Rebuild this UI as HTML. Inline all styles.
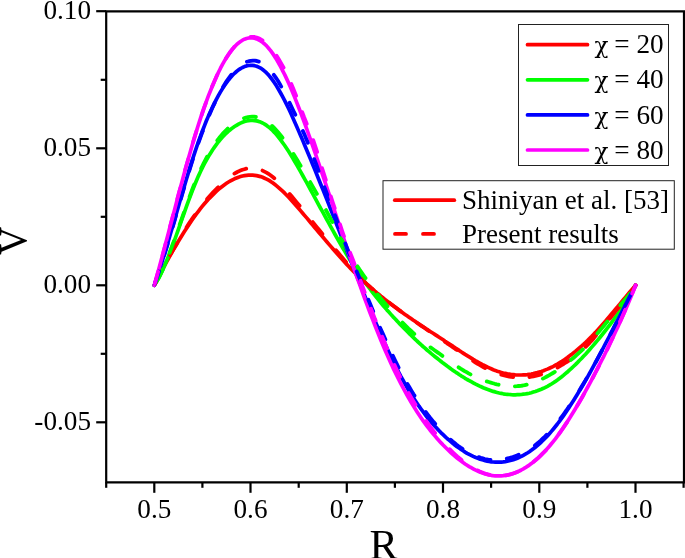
<!DOCTYPE html><html><head><meta charset="utf-8"><title>V vs R</title>
<style>html,body{margin:0;padding:0;background:#fff}body{width:685px;height:558px;overflow:hidden}svg{display:block}text{font-family:"Liberation Serif","DejaVu Serif",serif;fill:#000}</style></head><body>
<svg width="685" height="558" viewBox="0 0 685 558">
<rect width="685" height="558" fill="#fff"/>
<g fill="none" stroke-linecap="round" stroke-linejoin="round">
<path d="M154.3,285.3 L156.3,281.4 L158.3,277.5 L160.3,273.7 L162.3,269.9 L164.3,266.1 L166.3,262.4 L168.3,258.8 L170.3,255.2 L172.3,251.6 L174.4,248.1 L176.4,244.7 L178.4,241.3 L180.4,238.0 L182.4,234.7 L184.4,231.5 L186.4,228.4 L188.4,225.4 L190.4,222.4 L192.4,219.5 L194.4,216.7 L196.4,213.9 L198.4,211.3 L200.4,208.7 L202.4,206.2 L204.4,203.8 L206.4,201.5 L208.4,199.3 L210.5,197.1 L212.5,195.1 L214.5,193.1 L216.5,191.2 L218.5,189.4 L220.5,187.8 L222.5,186.2 L224.5,184.7 L226.5,183.3 L228.5,182.0 L230.5,180.9 L232.5,179.8 L234.5,178.8 L236.5,178.0 L238.5,177.2 L240.5,176.6 L242.5,176.0 L244.5,175.6 L246.5,175.3 L248.6,175.1 L250.6,175.1 L252.6,175.1 L254.6,175.3 L256.6,175.6 L258.6,176.1 L260.6,176.6 L262.6,177.3 L264.6,178.2 L266.6,179.1 L268.6,180.2 L270.6,181.4 L272.6,182.8 L274.6,184.3 L276.6,185.9 L278.6,187.6 L280.6,189.4 L282.6,191.2 L284.7,193.2 L286.7,195.2 L288.7,197.3 L290.7,199.5 L292.7,201.7 L294.7,203.9 L296.7,206.2 L298.7,208.5 L300.7,210.9 L302.7,213.2 L304.7,215.6 L306.7,217.9 L308.7,220.3 L310.7,222.7 L312.7,225.1 L314.7,227.5 L316.7,229.9 L318.7,232.2 L320.7,234.6 L322.8,237.0 L324.8,239.4 L326.8,241.7 L328.8,244.1 L330.8,246.4 L332.8,248.7 L334.8,251.0 L336.8,253.3 L338.8,255.6 L340.8,257.8 L342.8,260.0 L344.8,262.2 L346.8,264.4 L348.8,266.5 L350.8,268.6 L352.8,270.6 L354.8,272.7 L356.8,274.6 L358.9,276.6 L360.9,278.5 L362.9,280.4 L364.9,282.3 L366.9,284.1 L368.9,285.9 L370.9,287.7 L372.9,289.4 L374.9,291.2 L376.9,292.9 L378.9,294.5 L380.9,296.2 L382.9,297.8 L384.9,299.4 L386.9,301.0 L388.9,302.6 L390.9,304.1 L392.9,305.6 L395.0,307.1 L397.0,308.6 L399.0,310.1 L401.0,311.6 L403.0,313.0 L405.0,314.4 L407.0,315.8 L409.0,317.2 L411.0,318.6 L413.0,320.0 L415.0,321.3 L417.0,322.7 L419.0,324.0 L421.0,325.4 L423.0,326.7 L425.0,328.0 L427.0,329.4 L429.0,330.7 L431.0,332.0 L433.1,333.3 L435.1,334.6 L437.1,335.9 L439.1,337.2 L441.1,338.5 L443.1,339.8 L445.1,341.2 L447.1,342.5 L449.1,343.8 L451.1,345.1 L453.1,346.4 L455.1,347.8 L457.1,349.1 L459.1,350.4 L461.1,351.8 L463.1,353.1 L465.1,354.4 L467.1,355.6 L469.2,356.9 L471.2,358.1 L473.2,359.4 L475.2,360.6 L477.2,361.7 L479.2,362.8 L481.2,363.9 L483.2,365.0 L485.2,366.0 L487.2,367.0 L489.2,367.9 L491.2,368.8 L493.2,369.7 L495.2,370.4 L497.2,371.2 L499.2,371.8 L501.2,372.4 L503.2,373.0 L505.2,373.4 L507.3,373.9 L509.3,374.2 L511.3,374.5 L513.3,374.7 L515.3,374.9 L517.3,375.0 L519.3,375.0 L521.3,375.0 L523.3,374.9 L525.3,374.8 L527.3,374.6 L529.3,374.3 L531.3,374.0 L533.3,373.6 L535.3,373.1 L537.3,372.6 L539.3,372.0 L541.3,371.4 L543.4,370.7 L545.4,369.9 L547.4,369.1 L549.4,368.2 L551.4,367.3 L553.4,366.3 L555.4,365.2 L557.4,364.1 L559.4,362.9 L561.4,361.7 L563.4,360.4 L565.4,359.0 L567.4,357.6 L569.4,356.1 L571.4,354.6 L573.4,353.0 L575.4,351.4 L577.4,349.7 L579.4,348.0 L581.5,346.2 L583.5,344.4 L585.5,342.5 L587.5,340.6 L589.5,338.6 L591.5,336.6 L593.5,334.5 L595.5,332.4 L597.5,330.2 L599.5,328.0 L601.5,325.7 L603.5,323.4 L605.5,321.1 L607.5,318.8 L609.5,316.4 L611.5,314.0 L613.5,311.6 L615.5,309.2 L617.6,306.8 L619.6,304.4 L621.6,302.0 L623.6,299.5 L625.6,297.1 L627.6,294.7 L629.6,292.3 L631.6,290.0 L633.6,287.6 L635.6,285.3" stroke="#ff0000" stroke-width="3.7"/>
<path d="M154.3,285.3 L156.3,282.2 L158.3,278.8 L160.3,274.9 L162.3,270.8 L164.3,266.3 L166.3,261.5 L168.3,256.6 L170.3,251.4 L172.3,246.1 L174.4,240.6 L176.4,235.0 L178.4,229.3 L180.4,223.7 L182.4,218.0 L184.4,212.3 L186.4,206.7 L188.4,201.2 L190.4,195.8 L192.4,190.6 L194.4,185.5 L196.4,180.7 L198.4,176.1 L200.4,171.8 L202.4,167.6 L204.4,163.7 L206.4,160.0 L208.4,156.5 L210.5,153.2 L212.5,150.0 L214.5,147.1 L216.5,144.3 L218.5,141.7 L220.5,139.3 L222.5,137.0 L224.5,134.9 L226.5,133.0 L228.5,131.2 L230.5,129.5 L232.5,127.9 L234.5,126.5 L236.5,125.3 L238.5,124.1 L240.5,123.1 L242.5,122.3 L244.5,121.6 L246.5,121.0 L248.6,120.7 L250.6,120.5 L252.6,120.4 L254.6,120.6 L256.6,120.9 L258.6,121.4 L260.6,122.1 L262.6,123.0 L264.6,124.1 L266.6,125.4 L268.6,126.9 L270.6,128.6 L272.6,130.5 L274.6,132.6 L276.6,134.9 L278.6,137.3 L280.6,139.9 L282.6,142.7 L284.7,145.5 L286.7,148.5 L288.7,151.6 L290.7,154.8 L292.7,158.1 L294.7,161.5 L296.7,164.9 L298.7,168.4 L300.7,171.9 L302.7,175.5 L304.7,179.1 L306.7,182.7 L308.7,186.3 L310.7,190.0 L312.7,193.7 L314.7,197.4 L316.7,201.1 L318.7,204.8 L320.7,208.5 L322.8,212.1 L324.8,215.8 L326.8,219.5 L328.8,223.2 L330.8,226.8 L332.8,230.4 L334.8,234.0 L336.8,237.5 L338.8,241.1 L340.8,244.5 L342.8,248.0 L344.8,251.4 L346.8,254.7 L348.8,258.0 L350.8,261.2 L352.8,264.3 L354.8,267.4 L356.8,270.5 L358.9,273.4 L360.9,276.4 L362.9,279.2 L364.9,282.0 L366.9,284.8 L368.9,287.5 L370.9,290.2 L372.9,292.8 L374.9,295.3 L376.9,297.9 L378.9,300.3 L380.9,302.8 L382.9,305.2 L384.9,307.5 L386.9,309.9 L388.9,312.1 L390.9,314.4 L392.9,316.6 L395.0,318.8 L397.0,320.9 L399.0,323.1 L401.0,325.2 L403.0,327.2 L405.0,329.3 L407.0,331.3 L409.0,333.3 L411.0,335.2 L413.0,337.2 L415.0,339.1 L417.0,341.0 L419.0,342.8 L421.0,344.7 L423.0,346.5 L425.0,348.2 L427.0,350.0 L429.0,351.7 L431.0,353.4 L433.1,355.1 L435.1,356.7 L437.1,358.3 L439.1,359.9 L441.1,361.5 L443.1,363.1 L445.1,364.6 L447.1,366.1 L449.1,367.5 L451.1,369.0 L453.1,370.4 L455.1,371.8 L457.1,373.1 L459.1,374.5 L461.1,375.8 L463.1,377.0 L465.1,378.3 L467.1,379.5 L469.2,380.6 L471.2,381.7 L473.2,382.8 L475.2,383.9 L477.2,384.9 L479.2,385.9 L481.2,386.8 L483.2,387.7 L485.2,388.5 L487.2,389.3 L489.2,390.0 L491.2,390.7 L493.2,391.4 L495.2,391.9 L497.2,392.5 L499.2,393.0 L501.2,393.4 L503.2,393.8 L505.2,394.1 L507.3,394.3 L509.3,394.5 L511.3,394.7 L513.3,394.8 L515.3,394.8 L517.3,394.7 L519.3,394.6 L521.3,394.5 L523.3,394.2 L525.3,394.0 L527.3,393.6 L529.3,393.2 L531.3,392.7 L533.3,392.1 L535.3,391.5 L537.3,390.8 L539.3,390.0 L541.3,389.2 L543.4,388.3 L545.4,387.3 L547.4,386.3 L549.4,385.2 L551.4,384.0 L553.4,382.7 L555.4,381.4 L557.4,380.0 L559.4,378.5 L561.4,377.0 L563.4,375.4 L565.4,373.7 L567.4,372.0 L569.4,370.2 L571.4,368.4 L573.4,366.5 L575.4,364.6 L577.4,362.6 L579.4,360.5 L581.5,358.5 L583.5,356.3 L585.5,354.2 L587.5,352.0 L589.5,349.7 L591.5,347.4 L593.5,345.1 L595.5,342.8 L597.5,340.4 L599.5,338.0 L601.5,335.5 L603.5,333.0 L605.5,330.5 L607.5,327.9 L609.5,325.3 L611.5,322.6 L613.5,319.9 L615.5,317.1 L617.6,314.2 L619.6,311.3 L621.6,308.3 L623.6,305.3 L625.6,302.1 L627.6,298.9 L629.6,295.7 L631.6,292.3 L633.6,288.8 L635.6,285.3" stroke="#00ff00" stroke-width="3.7"/>
<path d="M154.3,285.3 L156.3,279.5 L158.3,273.5 L160.3,267.3 L162.3,260.9 L164.3,254.4 L166.3,247.8 L168.3,241.1 L170.3,234.2 L172.3,227.4 L174.4,220.4 L176.4,213.5 L178.4,206.5 L180.4,199.6 L182.4,192.7 L184.4,185.9 L186.4,179.2 L188.4,172.6 L190.4,166.1 L192.4,159.8 L194.4,153.6 L196.4,147.6 L198.4,141.9 L200.4,136.3 L202.4,131.0 L204.4,125.8 L206.4,120.8 L208.4,116.1 L210.5,111.5 L212.5,107.2 L214.5,103.1 L216.5,99.1 L218.5,95.4 L220.5,91.9 L222.5,88.6 L224.5,85.5 L226.5,82.7 L228.5,80.0 L230.5,77.6 L232.5,75.3 L234.5,73.3 L236.5,71.5 L238.5,69.9 L240.5,68.6 L242.5,67.5 L244.5,66.6 L246.5,65.9 L248.6,65.5 L250.6,65.3 L252.6,65.4 L254.6,65.7 L256.6,66.2 L258.6,67.1 L260.6,68.1 L262.6,69.5 L264.6,71.1 L266.6,72.9 L268.6,75.1 L270.6,77.5 L272.6,80.1 L274.6,83.0 L276.6,86.1 L278.6,89.5 L280.6,93.0 L282.6,96.7 L284.7,100.6 L286.7,104.6 L288.7,108.7 L290.7,113.0 L292.7,117.4 L294.7,121.9 L296.7,126.4 L298.7,131.1 L300.7,135.7 L302.7,140.4 L304.7,145.2 L306.7,150.0 L308.7,154.8 L310.7,159.6 L312.7,164.5 L314.7,169.4 L316.7,174.3 L318.7,179.3 L320.7,184.3 L322.8,189.3 L324.8,194.3 L326.8,199.3 L328.8,204.4 L330.8,209.5 L332.8,214.6 L334.8,219.7 L336.8,224.8 L338.8,229.9 L340.8,235.0 L342.8,240.1 L344.8,245.2 L346.8,250.4 L348.8,255.5 L350.8,260.6 L352.8,265.7 L354.8,270.8 L356.8,275.9 L358.9,281.0 L360.9,286.1 L362.9,291.1 L364.9,296.1 L366.9,301.1 L368.9,306.0 L370.9,310.9 L372.9,315.8 L374.9,320.6 L376.9,325.3 L378.9,330.0 L380.9,334.6 L382.9,339.2 L384.9,343.6 L386.9,348.1 L388.9,352.4 L390.9,356.6 L392.9,360.8 L395.0,364.9 L397.0,368.9 L399.0,372.8 L401.0,376.6 L403.0,380.2 L405.0,383.8 L407.0,387.3 L409.0,390.7 L411.0,394.0 L413.0,397.1 L415.0,400.2 L417.0,403.2 L419.0,406.2 L421.0,409.0 L423.0,411.7 L425.0,414.4 L427.0,417.0 L429.0,419.4 L431.0,421.9 L433.1,424.2 L435.1,426.4 L437.1,428.6 L439.1,430.7 L441.1,432.8 L443.1,434.7 L445.1,436.6 L447.1,438.5 L449.1,440.2 L451.1,441.9 L453.1,443.6 L455.1,445.2 L457.1,446.7 L459.1,448.1 L461.1,449.5 L463.1,450.8 L465.1,452.1 L467.1,453.3 L469.2,454.4 L471.2,455.4 L473.2,456.4 L475.2,457.3 L477.2,458.1 L479.2,458.9 L481.2,459.5 L483.2,460.1 L485.2,460.7 L487.2,461.1 L489.2,461.5 L491.2,461.8 L493.2,462.0 L495.2,462.1 L497.2,462.2 L499.2,462.2 L501.2,462.1 L503.2,461.9 L505.2,461.6 L507.3,461.2 L509.3,460.8 L511.3,460.3 L513.3,459.7 L515.3,459.0 L517.3,458.2 L519.3,457.3 L521.3,456.4 L523.3,455.3 L525.3,454.2 L527.3,453.0 L529.3,451.7 L531.3,450.3 L533.3,448.8 L535.3,447.2 L537.3,445.6 L539.3,443.8 L541.3,442.0 L543.4,440.0 L545.4,438.0 L547.4,435.9 L549.4,433.7 L551.4,431.4 L553.4,429.0 L555.4,426.5 L557.4,424.0 L559.4,421.3 L561.4,418.6 L563.4,415.8 L565.4,412.9 L567.4,409.9 L569.4,406.9 L571.4,403.8 L573.4,400.7 L575.4,397.5 L577.4,394.2 L579.4,390.9 L581.5,387.5 L583.5,384.1 L585.5,380.6 L587.5,377.1 L589.5,373.5 L591.5,369.9 L593.5,366.2 L595.5,362.5 L597.5,358.8 L599.5,355.1 L601.5,351.3 L603.5,347.5 L605.5,343.7 L607.5,339.9 L609.5,336.0 L611.5,332.1 L613.5,328.3 L615.5,324.4 L617.6,320.4 L619.6,316.5 L621.6,312.6 L623.6,308.7 L625.6,304.8 L627.6,300.9 L629.6,297.0 L631.6,293.1 L633.6,289.2 L635.6,285.3" stroke="#0000ff" stroke-width="3.7"/>
<path d="M154.3,285.3 L156.3,278.2 L158.3,270.9 L160.3,263.5 L162.3,256.1 L164.3,248.6 L166.3,241.0 L168.3,233.4 L170.3,225.7 L172.3,218.1 L174.4,210.4 L176.4,202.8 L178.4,195.2 L180.4,187.7 L182.4,180.2 L184.4,172.8 L186.4,165.6 L188.4,158.4 L190.4,151.4 L192.4,144.5 L194.4,137.8 L196.4,131.2 L198.4,124.8 L200.4,118.7 L202.4,112.7 L204.4,106.9 L206.4,101.3 L208.4,95.9 L210.5,90.8 L212.5,85.8 L214.5,81.1 L216.5,76.6 L218.5,72.3 L220.5,68.2 L222.5,64.4 L224.5,60.9 L226.5,57.5 L228.5,54.5 L230.5,51.6 L232.5,49.1 L234.5,46.8 L236.5,44.7 L238.5,43.0 L240.5,41.5 L242.5,40.2 L244.5,39.2 L246.5,38.5 L248.6,38.0 L250.6,37.9 L252.6,37.9 L254.6,38.3 L256.6,38.9 L258.6,39.8 L260.6,40.9 L262.6,42.3 L264.6,44.0 L266.6,45.9 L268.6,48.2 L270.6,50.6 L272.6,53.4 L274.6,56.4 L276.6,59.6 L278.6,63.0 L280.6,66.7 L282.6,70.6 L284.7,74.6 L286.7,78.9 L288.7,83.3 L290.7,87.8 L292.7,92.6 L294.7,97.4 L296.7,102.4 L298.7,107.5 L300.7,112.7 L302.7,118.0 L304.7,123.4 L306.7,128.9 L308.7,134.5 L310.7,140.2 L312.7,145.9 L314.7,151.7 L316.7,157.5 L318.7,163.4 L320.7,169.3 L322.8,175.3 L324.8,181.3 L326.8,187.3 L328.8,193.4 L330.8,199.4 L332.8,205.5 L334.8,211.6 L336.8,217.6 L338.8,223.7 L340.8,229.7 L342.8,235.8 L344.8,241.7 L346.8,247.7 L348.8,253.6 L350.8,259.5 L352.8,265.3 L354.8,271.1 L356.8,276.8 L358.9,282.4 L360.9,288.0 L362.9,293.6 L364.9,299.0 L366.9,304.4 L368.9,309.8 L370.9,315.0 L372.9,320.2 L374.9,325.3 L376.9,330.3 L378.9,335.3 L380.9,340.2 L382.9,345.0 L384.9,349.7 L386.9,354.3 L388.9,358.8 L390.9,363.2 L392.9,367.6 L395.0,371.8 L397.0,375.9 L399.0,380.0 L401.0,383.9 L403.0,387.7 L405.0,391.4 L407.0,395.0 L409.0,398.6 L411.0,402.0 L413.0,405.3 L415.0,408.6 L417.0,411.7 L419.0,414.7 L421.0,417.7 L423.0,420.6 L425.0,423.4 L427.0,426.1 L429.0,428.7 L431.0,431.3 L433.1,433.7 L435.1,436.1 L437.1,438.5 L439.1,440.7 L441.1,442.9 L443.1,445.0 L445.1,447.0 L447.1,449.0 L449.1,450.9 L451.1,452.8 L453.1,454.6 L455.1,456.3 L457.1,458.0 L459.1,459.6 L461.1,461.1 L463.1,462.6 L465.1,464.0 L467.1,465.3 L469.2,466.6 L471.2,467.7 L473.2,468.8 L475.2,469.9 L477.2,470.8 L479.2,471.7 L481.2,472.5 L483.2,473.2 L485.2,473.9 L487.2,474.4 L489.2,474.9 L491.2,475.3 L493.2,475.6 L495.2,475.8 L497.2,475.9 L499.2,475.9 L501.2,475.8 L503.2,475.7 L505.2,475.4 L507.3,475.1 L509.3,474.6 L511.3,474.1 L513.3,473.4 L515.3,472.7 L517.3,471.9 L519.3,471.0 L521.3,470.0 L523.3,468.9 L525.3,467.7 L527.3,466.4 L529.3,465.1 L531.3,463.6 L533.3,462.0 L535.3,460.4 L537.3,458.6 L539.3,456.8 L541.3,454.9 L543.4,452.8 L545.4,450.7 L547.4,448.5 L549.4,446.2 L551.4,443.8 L553.4,441.3 L555.4,438.8 L557.4,436.1 L559.4,433.4 L561.4,430.5 L563.4,427.6 L565.4,424.6 L567.4,421.6 L569.4,418.5 L571.4,415.3 L573.4,412.0 L575.4,408.7 L577.4,405.3 L579.4,401.9 L581.5,398.4 L583.5,394.8 L585.5,391.2 L587.5,387.5 L589.5,383.8 L591.5,380.1 L593.5,376.3 L595.5,372.5 L597.5,368.6 L599.5,364.7 L601.5,360.7 L603.5,356.8 L605.5,352.7 L607.5,348.6 L609.5,344.5 L611.5,340.3 L613.5,336.1 L615.5,331.8 L617.6,327.4 L619.6,323.0 L621.6,318.5 L623.6,314.0 L625.6,309.4 L627.6,304.7 L629.6,300.0 L631.6,295.2 L633.6,290.3 L635.6,285.3" stroke="#ff00ff" stroke-width="3.7"/>
<path d="M155.3,283.4 L157.3,279.5 L159.3,275.6 L161.3,271.7 L161.4,271.5 M170.1,255.2 L172.1,251.6 L174.1,248.0 L176.1,244.5 L176.8,243.4 M186.6,227.2 L188.6,224.1 L190.6,221.0 L192.6,218.1 L194.6,215.3 M207.1,199.1 L209.1,196.8 L211.1,194.6 L213.1,192.4 L215.1,190.3 L217.1,188.2 L218.1,187.3 M234.4,173.6 L236.4,172.5 L238.4,171.4 L240.4,170.6 L242.4,169.8 L244.4,169.2 L246.2,168.7 M262.5,170.6 L264.5,171.6 L266.5,172.6 L268.5,173.8 L270.5,175.2 L272.5,176.7 L274.3,178.2 M289.7,194.0 L291.7,196.3 L293.7,198.7 L295.7,201.1 L297.8,203.6 L299.6,205.8 M312.8,222.1 L314.8,224.6 L316.8,227.1 L318.8,229.5 L320.8,232.0 L322.4,234.0 M336.0,250.3 L338.0,252.6 L340.0,255.0 L342.0,257.3 L344.0,259.7 L346.0,262.0 L346.1,262.1 M360.8,278.4 L362.8,280.3 L364.8,282.2 L366.8,284.1 L368.8,285.9 L370.8,287.7 L372.7,289.3 M388.9,302.5 L390.9,304.1 L392.9,305.6 L394.9,307.1 L396.9,308.6 L398.9,310.1 L400.8,311.4 M417.0,322.8 L419.0,324.2 L421.0,325.6 L423.0,326.9 L425.0,328.3 L427.0,329.7 L428.8,330.9 M445.1,341.9 L447.1,343.3 L449.1,344.6 L451.1,346.0 L453.1,347.4 L455.1,348.8 L456.9,350.0 M473.2,361.0 L475.2,362.3 L477.2,363.5 L479.2,364.7 L481.2,365.9 L483.2,367.0 L485.1,368.0 M501.3,374.7 L503.3,375.2 L505.3,375.7 L507.3,376.2 L509.3,376.6 L511.3,376.9 L513.2,377.1 M529.4,377.0 L531.4,376.7 L533.4,376.3 L535.4,375.9 L537.4,375.4 L539.4,374.9 L541.2,374.4 M557.5,367.5 L559.5,366.4 L561.5,365.2 L563.5,364.0 L565.5,362.7 L567.5,361.5 L569.3,360.3 M585.6,346.8 L587.6,344.8 L589.6,342.8 L591.6,340.7 L593.6,338.4 L595.6,335.8 L596.2,335.0 M609.6,318.7 L611.6,316.3 L613.6,313.8 L615.6,311.2 L617.6,308.7 L619.1,306.9 M632.1,290.7 L634.1,287.7 L635.6,285.3" stroke="#ff0000" stroke-width="3.8"/>
<path d="M157.0,280.9 L159.0,277.3 L161.0,273.3 L163.0,269.1 M169.6,252.8 L171.6,247.4 L173.6,241.9 L174.0,241.0 M179.7,224.6 L181.7,218.8 L183.7,213.0 L183.8,212.8 M189.6,196.6 L191.6,191.2 L193.6,186.0 L194.1,184.8 M201.2,168.4 L203.2,164.2 L205.2,160.3 L207.1,156.7 M217.3,140.4 L219.3,137.8 L221.3,135.4 L223.3,133.1 L225.3,131.0 L227.3,129.0 L227.7,128.6 M244.0,118.2 L246.0,117.5 L248.0,117.1 L250.0,116.8 L252.0,116.7 L254.0,116.7 L255.9,117.0 M272.1,125.9 L274.1,127.9 L276.1,130.0 L278.1,132.2 L280.1,134.6 L282.1,137.2 L282.5,137.7 M293.5,153.9 L295.5,157.2 L297.5,160.5 L299.5,163.9 L300.6,165.8 M310.2,182.1 L312.2,185.6 L314.2,189.1 L316.2,192.6 L316.9,193.9 M326.0,210.1 L328.0,213.8 L330.0,217.5 L332.0,221.3 L332.4,222.0 M340.8,238.2 L342.8,241.9 L344.8,245.5 L346.9,249.0 L347.5,250.1 M357.4,266.3 L359.4,269.4 L361.5,272.4 L363.5,275.3 L365.5,278.2 M377.6,294.5 L379.6,297.0 L381.6,299.4 L383.6,301.8 L385.6,304.1 L387.5,306.3 M402.5,322.6 L404.5,324.6 L406.5,326.6 L408.5,328.6 L410.6,330.5 L412.6,332.4 L414.3,334.0 M430.5,347.4 L432.5,348.8 L434.5,350.2 L436.5,351.6 L438.6,353.1 L440.6,354.6 L442.4,355.9 M458.6,367.3 L460.6,368.6 L462.6,369.8 L464.6,371.1 L466.6,372.2 L468.6,373.4 L470.5,374.4 M486.8,381.4 L488.8,382.0 L490.8,382.6 L492.8,383.2 L494.8,383.8 L496.8,384.3 L498.6,384.7 M514.9,386.3 L516.9,386.2 L518.9,386.0 L520.9,385.8 L522.9,385.5 L524.9,385.1 L526.7,384.7 M542.9,378.6 L544.9,377.6 L546.9,376.5 L549.0,375.4 L551.0,374.2 L553.0,373.0 L554.8,371.9 M571.0,359.9 L573.0,358.2 L575.0,356.5 L577.0,354.7 L579.0,352.8 L581.0,351.0 L582.9,349.4 M597.5,333.4 L599.5,331.0 L601.5,328.6 L603.5,326.2 L605.5,323.8 L607.4,321.5 M620.4,305.3 L622.4,302.8 L624.4,300.4 L626.4,298.0 L628.4,295.6 L630.1,293.4" stroke="#00ff00" stroke-width="3.8"/>
<path d="M155.0,283.3 L157.0,277.5 L159.0,271.5 M164.2,255.2 L166.3,248.6 L167.8,243.6 M172.7,227.0 L174.7,220.1 L176.0,215.4 M180.8,199.1 L182.8,192.3 L184.2,187.4 M189.2,170.9 L191.2,164.5 L192.9,159.2 M198.4,142.9 L200.4,137.3 L202.4,131.9 L202.8,131.1 M209.4,114.7 L211.4,110.1 L213.4,105.6 L214.6,103.1 M223.2,86.7 L225.2,83.4 L227.2,80.4 L229.2,77.6 L231.2,74.9 L231.3,74.8 M246.9,61.8 L248.9,61.2 L250.9,60.8 L252.9,60.6 L254.9,60.7 L256.9,61.0 L258.8,61.6 M273.8,74.8 L275.8,77.7 L277.9,80.8 L279.9,84.2 L281.2,86.6 M289.6,102.8 L291.6,107.0 L293.6,111.2 L295.3,114.7 M302.9,131.0 L304.9,135.6 L306.9,140.5 L307.8,142.7 M314.2,159.1 L316.2,164.3 L318.2,169.8 L318.6,170.9 M324.5,187.3 L326.5,192.7 L328.5,198.1 L328.8,198.9 M335.0,215.3 L337.0,220.7 L339.0,226.2 L339.3,227.1 M345.3,243.5 L347.3,248.7 L349.3,253.7 L349.9,255.1 M356.7,271.5 L358.7,276.3 L360.7,281.1 L361.6,283.2 M368.4,299.7 L370.4,304.5 L372.4,309.4 L373.2,311.3 M380.1,327.7 L382.2,332.2 L384.2,336.7 L385.4,339.4 M392.9,355.8 L394.9,360.0 L396.9,364.1 L398.6,367.5 M407.4,383.9 L409.4,387.3 L411.4,390.7 L413.4,394.0 L414.5,395.6 M425.7,412.0 L427.7,414.6 L429.7,417.2 L431.7,419.6 L433.7,422.1 L435.2,423.8 M450.6,439.7 L452.6,441.5 L454.6,443.1 L456.6,444.7 L458.6,446.2 L460.6,447.6 L462.5,448.8 M478.8,457.1 L480.8,457.8 L482.8,458.4 L484.8,459.0 L486.8,459.4 L488.8,459.8 L490.5,460.0 M506.8,458.7 L508.8,458.2 L510.8,457.6 L512.8,457.0 L514.9,456.3 L516.9,455.6 L518.7,454.8 M534.9,445.4 L536.9,443.8 L538.9,442.1 L540.9,440.4 L542.9,438.5 L544.9,436.6 L546.8,434.7 M560.5,418.5 L562.5,415.8 L564.5,413.0 L566.5,410.2 L568.5,407.2 L568.9,406.6 M579.4,390.4 L581.4,387.1 L583.4,383.8 L585.4,380.4 L586.4,378.6 M595.6,362.4 L597.6,358.7 L599.6,354.9 L601.6,351.2 L601.9,350.6 M610.5,334.2 L612.5,330.3 L614.5,326.4 L616.5,322.5 L616.6,322.3 M624.9,306.0 L626.9,302.1 L628.9,298.2 L630.9,294.3" stroke="#0000ff" stroke-width="3.8"/>
<path d="M154.9,283.3 L156.9,276.1 L158.1,271.8 M162.6,255.2 L164.6,247.7 L165.7,243.4 M169.9,227.2 L172.0,219.6 L173.1,215.3 M177.3,199.1 L179.3,191.6 L180.5,187.4 M184.9,170.8 L187.0,163.5 L188.2,159.2 M192.9,142.8 L194.9,136.1 L196.4,131.2 M201.7,114.8 L203.7,108.9 L205.7,103.3 L205.8,103.0 M212.1,86.6 L214.2,81.8 L216.2,77.3 L217.3,74.8 M225.9,58.6 L227.9,55.4 L229.9,52.5 L231.9,49.8 L233.9,47.4 L234.4,46.8 M250.6,36.8 L252.6,36.8 L254.6,37.0 L256.6,37.5 L258.6,38.3 L260.6,39.3 L262.5,40.4 M276.6,55.8 L278.6,59.0 L280.6,62.4 L282.6,65.9 L283.6,67.7 M291.3,83.9 L293.3,88.7 L295.3,93.7 L296.1,95.8 M302.2,112.1 L304.2,117.5 L306.2,122.5 L306.7,123.7 M313.2,140.1 L315.2,146.0 L317.1,151.9 M322.1,168.2 L324.1,174.6 L325.8,179.9 M330.8,196.4 L332.8,202.6 L334.7,208.2 M340.0,224.4 L342.0,230.5 L344.0,236.3 M350.1,252.6 L352.1,257.8 L354.2,263.2 L354.6,264.3 M360.5,280.8 L362.5,286.3 L364.5,291.7 L364.7,292.3 M371.0,308.8 L373.0,314.0 L375.0,319.1 L375.6,320.5 M382.2,336.8 L384.2,341.6 L386.2,346.3 L387.1,348.6 M394.4,364.9 L396.4,369.2 L398.4,373.3 L400.1,376.8 M408.7,393.1 L410.7,396.6 L412.7,400.1 L414.7,403.5 L415.5,404.8 M426.2,421.1 L428.2,423.9 L430.2,426.7 L432.2,429.3 L434.2,431.9 L435.1,433.0 M449.6,449.2 L451.6,451.2 L453.6,453.1 L455.6,455.0 L457.6,456.7 L459.7,458.4 L461.5,460.0 M477.7,470.4 L479.7,471.4 L481.7,472.2 L483.7,473.0 L485.7,473.7 L487.7,474.3 L489.6,474.8 M505.8,475.3 L507.8,474.9 L509.8,474.5 L511.8,473.9 L513.8,473.3 L515.8,472.5 L517.7,471.7 M533.9,461.5 L536.0,459.8 L538.0,458.1 L540.0,456.2 L542.0,454.2 L544.0,452.2 L545.7,450.4 M558.8,434.2 L560.8,431.3 L562.8,428.5 L564.8,425.5 L566.8,422.5 L566.9,422.4 M577.0,406.1 L579.0,402.7 L581.0,399.2 L583.0,395.7 L583.8,394.2 M592.6,378.0 L594.6,374.2 L596.6,370.3 L598.6,366.4 L598.8,366.1 M607.0,349.8 L609.0,345.7 L611.0,341.5 L612.6,338.1 M620.1,321.8 L622.1,317.3 L624.1,312.7 L625.3,309.9 M632.2,293.6 L634.2,288.7 L635.6,285.3" stroke="#ff00ff" stroke-width="3.8"/>
</g>
<g stroke="#000" stroke-width="2.2" fill="none" stroke-linecap="butt">
<path d="M106.2,483.3 V11.3 H685 M684,10.3 V483.3 M105.2,482.3 H685"/>
<path d="M96.2,422.3 H106.2"/>
<path d="M100.7,353.8 H106.2"/>
<path d="M96.2,285.3 H106.2"/>
<path d="M100.7,216.8 H106.2"/>
<path d="M96.2,148.3 H106.2"/>
<path d="M100.7,79.8 H106.2"/>
<path d="M96.2,11.2 H106.2"/>
<path d="M106.2,482.3 V487.8"/>
<path d="M154.3,482.3 V492.8"/>
<path d="M202.4,482.3 V487.8"/>
<path d="M250.5,482.3 V492.8"/>
<path d="M298.7,482.3 V487.8"/>
<path d="M346.8,482.3 V492.8"/>
<path d="M394.9,482.3 V487.8"/>
<path d="M443.0,482.3 V492.8"/>
<path d="M491.1,482.3 V487.8"/>
<path d="M539.3,482.3 V492.8"/>
<path d="M587.4,482.3 V487.8"/>
<path d="M635.5,482.3 V492.8"/>
<path d="M683.6,482.3 V487.8"/>
</g>
<g font-size="27.2px">
<text x="91" y="18.7" text-anchor="end">0.10</text>
<text x="91" y="155.8" text-anchor="end">0.05</text>
<text x="91" y="292.8" text-anchor="end">0.00</text>
<text x="91" y="429.8" text-anchor="end">-0.05</text>
<text x="154.3" y="517.6" text-anchor="middle">0.5</text>
<text x="250.5" y="517.6" text-anchor="middle">0.6</text>
<text x="346.8" y="517.6" text-anchor="middle">0.7</text>
<text x="443.0" y="517.6" text-anchor="middle">0.8</text>
<text x="539.3" y="517.6" text-anchor="middle">0.9</text>
<text x="635.5" y="517.6" text-anchor="middle">1.0</text>
</g>
<text x="369.6" y="559" font-size="42.6px">R</text>
<text transform="translate(25.8,241) rotate(-90)" font-size="39px" text-anchor="middle">V</text>
<rect x="518.5" y="24.5" width="150" height="141" fill="#fff" stroke="#222" stroke-width="1"/>
<path d="M527.5,44.7 H587.5" stroke="#ff0000" stroke-width="3.7" stroke-linecap="round"/>
<text y="53.3" font-size="27.2px"><tspan x="594.6" style="font-family:&quot;DejaVu Serif&quot;,serif;font-size:23px">χ </tspan><tspan x="614.3">= 20</tspan></text>
<path d="M527.5,79.8 H587.5" stroke="#00ff00" stroke-width="3.7" stroke-linecap="round"/>
<text y="88.4" font-size="27.2px"><tspan x="594.6" style="font-family:&quot;DejaVu Serif&quot;,serif;font-size:23px">χ </tspan><tspan x="614.3">= 40</tspan></text>
<path d="M527.5,114.9 H587.5" stroke="#0000ff" stroke-width="3.7" stroke-linecap="round"/>
<text y="123.5" font-size="27.2px"><tspan x="594.6" style="font-family:&quot;DejaVu Serif&quot;,serif;font-size:23px">χ </tspan><tspan x="614.3">= 60</tspan></text>
<path d="M527.5,150.0 H587.5" stroke="#ff00ff" stroke-width="3.7" stroke-linecap="round"/>
<text y="158.6" font-size="27.2px"><tspan x="594.6" style="font-family:&quot;DejaVu Serif&quot;,serif;font-size:23px">χ </tspan><tspan x="614.3">= 80</tspan></text>
<rect x="383" y="180.7" width="291.3" height="68.5" fill="#fff" stroke="#222" stroke-width="1"/>
<path d="M394.8,200.2 H454.3" stroke="#ff0000" stroke-width="3.7" stroke-linecap="round"/>
<path d="M395,233.9 H406 M423,233.9 H434" stroke="#ff0000" stroke-width="3.8" stroke-linecap="round"/>
<text x="462" y="209" font-size="27px">Shiniyan et al. [53]</text>
<text x="462" y="243" font-size="27px">Present results</text>
</svg></body></html>
